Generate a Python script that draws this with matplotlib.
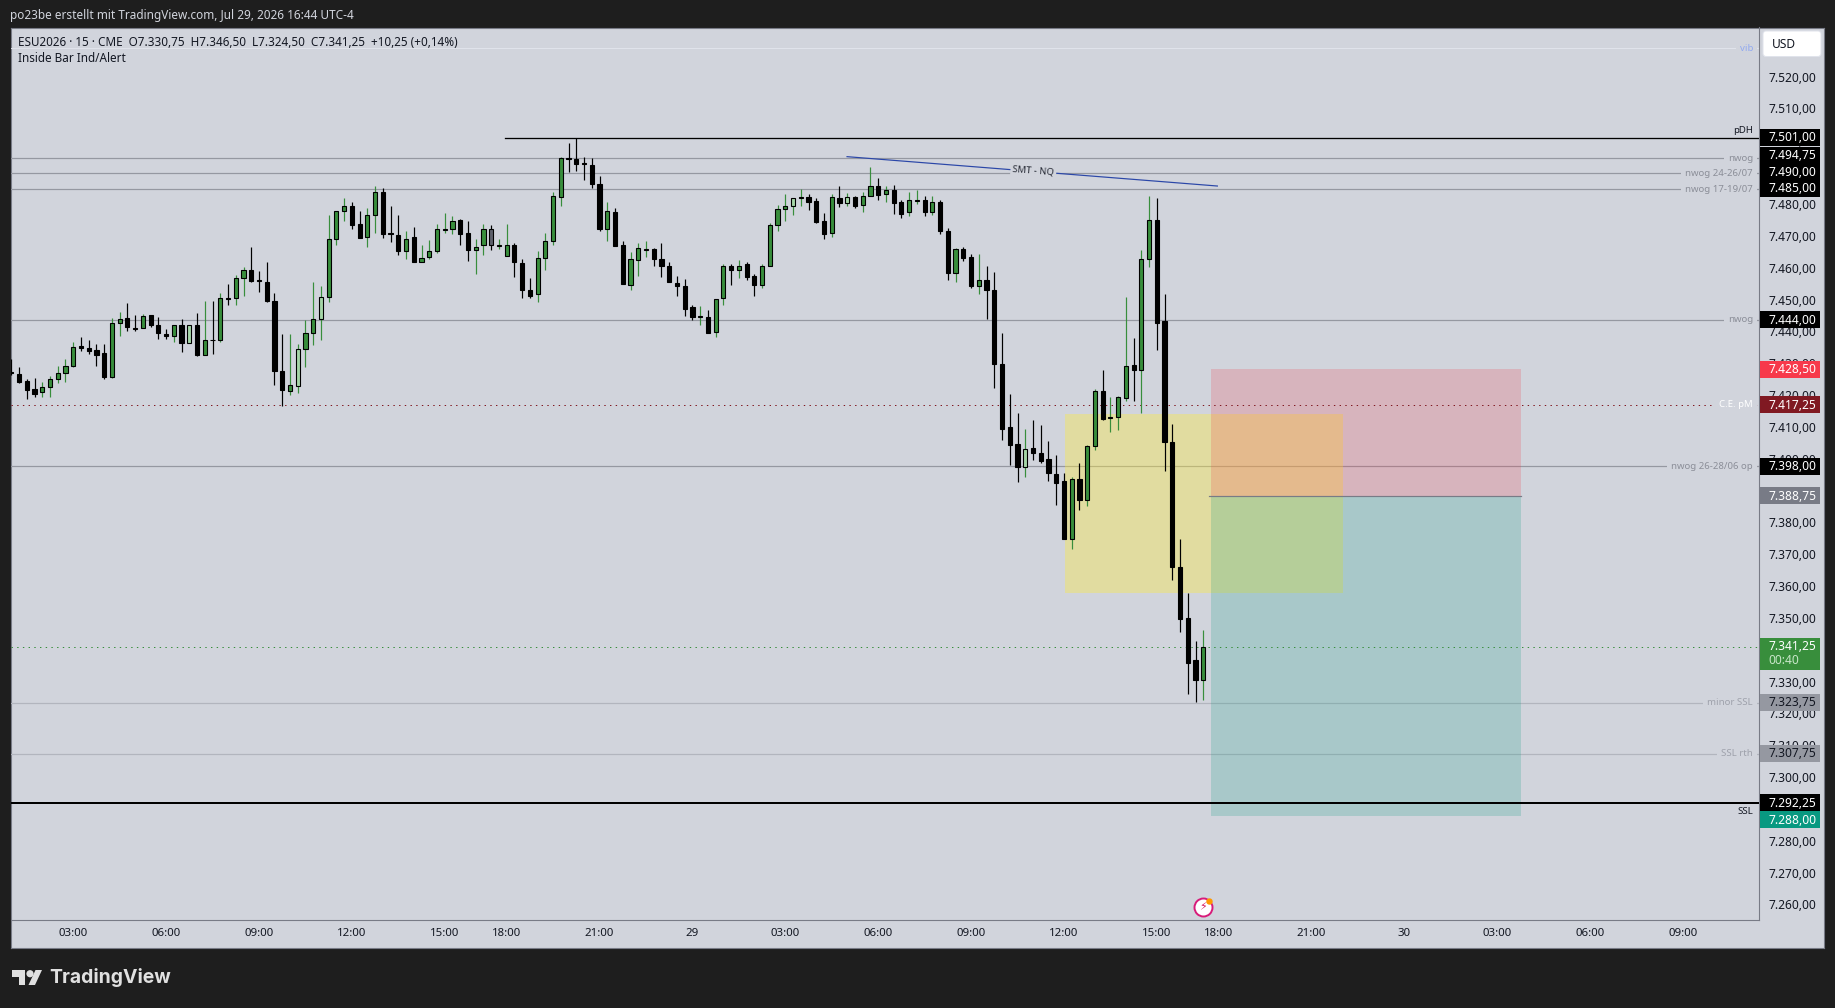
import matplotlib
matplotlib.use("Agg")
import matplotlib.pyplot as plt
from matplotlib.patches import Rectangle, Polygon, Circle, FancyBboxPatch
import numpy as np

plt.rcParams['font.family'] = ['Noto Sans', 'DejaVu Sans']

opens = [7427.5,7427,7424.75,7422.25,7421.25,7423,7425.5,7427.25,7429.5,7435.75,
7435,7434.5,7433.5,7426,7443,7444.5,7441.5,7441.5,7445.5,7442.5,
7439.5,7439,7442.5,7436.75,7442.25,7433,7437.75,7437.5,7450.75,7450.75,
7457.25,7459.5,7456.5,7456,7449.75,7428,7421.75,7423.25,7434.75,7439.75,
7444.25,7451.25,7469.25,7478.25,7479.75,7474,7470,7477,7484,7471.25,
7470.75,7465.5,7470,7462.25,7463.75,7465.5,7472.25,7472.5,7475.25,7471.25,
7466,7467.5,7472.5,7467.25,7464,7467.5,7461.75,7453.25,7452,7463.5,
7468.75,7482.5,7494.75,7494.5,7493.25,7492.75,7486.75,7472.5,7478,7467.5,
7455,7462.75,7466,7466.25,7463.25,7460.75,7455.5,7454.75,7448,7445,
7444.75,7440.25,7450.75,7461,7459.75,7461.5,7457.75,7455,7460.75,7473.75,
7478.75,7479.75,7482.25,7482.5,7481.25,7475,7471.25,7482.25,7480.75,7482.5,
7480,7483,7486,7483.5,7484.75,7481,7478,7481.25,7481.75,7478,
7481,7472,7458.75,7466.25,7463.75,7454.5,7456.5,7453.5,7430,7410.25,
7405,7397.75,7403.75,7402.25,7400.25,7395.5,7393.25,7375.25,7394,7387.5,
7404.25,7421.75,7413.25,7413.5,7419.5,7429.75,7428.25,7463.25,7475.25,7443.5,
7405.5,7366.5,7350.25,7337,7330.75]

closes = [7427.25,7424.5,7422,7420.75,7423,7425.5,7427.25,7429.5,7435.5,7435.25,
7434.25,7433,7426,7443,7444.25,7441.75,7441.25,7445.25,7442.25,7439.75,
7439,7442.5,7436.75,7442.25,7433,7437.75,7437.5,7450.75,7450.5,7457,
7459.5,7456.25,7456.25,7449.75,7428,7422,7423.5,7434.75,7439.75,7444.25,
7451.25,7469.25,7478.25,7479.75,7473.75,7469.75,7477,7484,7471,7471,
7465.5,7469.5,7462.25,7463.5,7465.5,7472.5,7472.5,7475,7471,7466,
7467,7472.5,7467.5,7467.5,7467.5,7462,7453.25,7451.5,7463.5,7468.75,
7482.75,7494.75,7494.5,7493,7493,7486.75,7472.5,7478.25,7467.25,7455.25,
7463,7466.5,7466.25,7463.25,7461,7455.75,7454.75,7447.25,7445,7445.25,
7440,7450.5,7461,7459.75,7460.75,7457.5,7455,7461,7473.75,7478.75,
7479.75,7482.25,7482.5,7481,7474.75,7471,7482.5,7480.75,7482.5,7479.75,
7482.75,7486,7483.25,7484.75,7480.75,7477.25,7481.5,7481.75,7478,7481,
7471.75,7458.75,7466.25,7463.5,7454.5,7456.5,7453.25,7430,7409.75,7404.75,
7397.75,7403.5,7402.25,7399.75,7395.75,7392.75,7375.25,7394,7387.5,7404.5,
7421.5,7412.75,7413.5,7419.75,7429.5,7428.25,7463.25,7475.25,7443,7405.5,
7366.5,7350,7336.25,7331,7341.25]

highs = [7431.75,7429.25,7425.25,7425.75,7424.5,7426.5,7429.5,7431.75,7437,7438.5,
7437.75,7436.5,7436.5,7444.5,7446.5,7449.25,7445.5,7445.75,7445.5,7444.75,
7441.25,7442.5,7444.25,7442.5,7446.25,7450,7450,7452.5,7455.25,7458,
7460.5,7467,7459.25,7462.25,7452.5,7439.5,7439.5,7436.5,7444,7456,
7454.75,7477,7478.25,7482.25,7481,7478.25,7479.25,7486,7485.5,7479.75,
7477,7471.75,7473.25,7467.5,7469,7474,7477.5,7476.75,7475.5,7475,
7469.25,7474,7473.75,7469.25,7474,7468.25,7463,7457.25,7465.5,7471.25,
7484,7495.25,7499.5,7501,7495.25,7494.75,7489.25,7481,7479,7468.75,
7465.25,7468,7468.75,7466.5,7468,7462.25,7457.75,7456.75,7448.75,7448.25,
7447,7450.5,7461.5,7461.5,7462.75,7462,7458.25,7461.5,7474.25,7480,
7483.5,7482.25,7485,7483.5,7482.25,7477.5,7483.5,7486,7483.75,7482.75,
7484,7492,7488.5,7486,7486.25,7481.75,7484,7484.75,7482.75,7482.75,
7481.5,7472.75,7466.5,7467,7464.75,7464.75,7461,7459,7439.75,7420.75,
7414.75,7409.75,7412.5,7411,7406,7401.5,7396,7394.75,7399,7404.75,
7422.25,7428.25,7419.75,7420,7451.25,7438.25,7466,7482.75,7482.25,7452.25,
7411.25,7375.25,7358.25,7343.25,7346.5]

lows = [7426.75,7424.25,7419.25,7419.75,7419.75,7419.75,7424,7424.5,7429.25,7434.25,
7433.25,7429.5,7425.5,7425.75,7439,7440.5,7440.5,7441.5,7441.75,7438,
7438,7437,7434,7436.75,7432.75,7433,7433.25,7437,7448.5,7448.75,
7451.5,7455.75,7452.75,7449.5,7423.5,7417,7420.25,7421,7429.25,7436,
7437.75,7449.5,7467.5,7475,7472.5,7469.75,7467,7471.25,7469.75,7468.5,
7464.25,7463,7462.25,7462.25,7463.25,7465,7471.25,7471,7467.5,7462.5,
7458.5,7464.5,7466,7466.25,7464,7457.5,7451,7450.75,7449.5,7459.75,
7467.5,7479.75,7490.5,7490.75,7487.75,7485.5,7471.75,7468.75,7467.25,7455.25,
7453.5,7457.75,7463.75,7461,7457.5,7455.75,7451.5,7445.25,7444,7442.25,
7440,7438.75,7448.75,7455,7457.25,7456.5,7451.5,7454,7460.75,7471.75,
7475,7477,7479.75,7478.5,7474.5,7469.25,7470,7479.5,7479.75,7479,
7477.75,7483,7481.5,7481,7477.25,7476,7476.5,7480.25,7476.75,7477,
7471,7456.5,7455.75,7462.5,7454,7452.25,7444.25,7422.5,7406.25,7398.5,
7393,7394.75,7400,7399,7393.25,7385.75,7375.25,7372,7384.25,7385.5,
7403,7412.5,7408.75,7409.5,7418.5,7418.5,7414.75,7460.5,7434.5,7396.5,
7362.25,7346,7326.5,7324,7324.5]

inside_bars = [23, 37, 40, 101, 108, 131]
gray_bars = [62]

tick_bars = [8,20,32,44,56,64,76,88,100,112,124,136,148,156,168,180,192,204,216]
tick_texts = ["03:00","06:00","09:00","12:00","15:00","18:00","21:00","29","03:00","06:00",
              "09:00","12:00","15:00","18:00","21:00","30","03:00","06:00","09:00"]
price_ticks = list(range(7260, 7530, 10))

line_prices = [7494.75, 7490.0, 7485.0, 7444.0, 7398.0]
line_names = ["nwog", "nwog 24-26/07", "nwog 17-19/07", "nwog", "nwog 26-28/06 op"]
soft_prices = [7323.75, 7307.75]
soft_names = ["minor SSL", "SSL rth"]
vib_price = 7529.25
pdh_price = 7501.0
ssl_price = 7292.25
ce_price = 7417.25
last_price = 7341.25
entry_price = 7388.75
stop_price = 7428.5
target_price = 7288.0
fvg_top, fvg_bottom = 7414.5, 7358.25
smt_bars = [107.9, 155.9]
smt_prices = [7495.25, 7486.0]

tag_prices = [7501.0, 7494.75, 7490.0, 7485.0, 7444.0, 7428.5, 7417.25, 7398.0, 7388.75, 7323.75, 7307.75, 7292.25, 7288.0]
tag_places = [7501.25, 7495.75, 7490.5, 7485.25, 7444.0, 7428.5, 7417.25, 7398.0, 7388.75, 7323.75, 7307.75, 7292.25, 7287.0]
tag_fills = ["#000000","#000000","#000000","#000000","#000000","#f7394b","#801922","#000000","#787b86","#9598a1","#9598a1","#000000","#089981"]
tag_inks = ["white","white","white","white","white","white","white","white","white","#131722","#131722","white","white"]

W, H = 1835, 1008
BG = "#d1d4dc"
DARK = "#1e1e1e"
AXC = "#787b86"
INK = "#131722"
PX = 1 / 100 * 72  # points per pixel

L, R, T, B, RR, BB = 10.7, 1759.0, 27.5, 920.0, 1824.3, 947.7
BAR0, STEP = 11.3, 7.74
def price_at(y):
    return 7506.75 - (y - 120) / 3.184
XL = ((L - BAR0) / STEP, (R - BAR0) / STEP)
YL = (price_at(B), price_at(T))
def fmt(p):
    return f"{p:,.2f}".replace(",", "#").replace(".", ",").replace("#", ".")

fig = plt.figure(figsize=(W / 100, H / 100), dpi=100, facecolor=DARK)

# whole pane background, behind everything
base = fig.add_axes([L / W, 1 - BB / H, (RR - L) / W, (BB - T) / H], facecolor=BG, zorder=0)
base.set_xticks([]); base.set_yticks([])
for s in base.spines.values():
    s.set_color(AXC)
    s.set_linewidth(1.1 * PX)

ax = fig.add_axes([L / W, 1 - B / H, (R - L) / W, (B - T) / H], facecolor="none", zorder=1)
ax.set_xlim(*XL)
ax.set_ylim(*YL)
ax.set_xticks([]); ax.set_yticks([])
for s in ax.spines.values():
    s.set_visible(False)
ax.spines["right"].set_visible(True)
ax.spines["bottom"].set_visible(True)
ax.spines["right"].set_color(AXC)
ax.spines["bottom"].set_color(AXC)
ax.spines["right"].set_linewidth(1.1 * PX)
ax.spines["bottom"].set_linewidth(1.1 * PX)

# horizontal levels
for p in line_prices:
    ax.axhline(p, color="#9598a1", lw=1.2 * PX, zorder=1)
for p in soft_prices:
    ax.axhline(p, color="#b2b5be", lw=1.2 * PX, zorder=1)
ax.axhline(vib_price, color="#e0e3eb", lw=1 * PX, zorder=1)
ax.plot([63.8, XL[1]], [pdh_price, pdh_price], color="black", lw=1.3 * PX, zorder=1)
ax.axhline(ssl_price, color="black", lw=2 * PX, zorder=3.5)
ax.axhline(ce_price, color="#801922", lw=1 * PX, ls=(0, (1.4, 4.3)), zorder=2.5)
ax.axhline(last_price, color="#388e3c", lw=1 * PX, ls=(0, (1.4, 4.3)), zorder=2.5)

# boxes
ax.add_patch(Rectangle((136.1, fvg_bottom), 172 - 136.1, fvg_top - fvg_bottom,
                       fc=(1, 0.92, 0.23, 0.37), ec="none", zorder=2))
ax.add_patch(Rectangle((155.0, entry_price), 195.1 - 155.0, stop_price - entry_price,
                       fc=(0.949, 0.212, 0.271, 0.2), ec="none", zorder=2.1))
ax.add_patch(Rectangle((155.0, target_price), 195.1 - 155.0, entry_price - target_price,
                       fc=(0.031, 0.6, 0.506, 0.2), ec="none", zorder=2.1))
ax.plot([154.8, 195.1], [entry_price, entry_price], color="#787b86", lw=1.2 * PX, zorder=2.2)

# candles
idx = np.arange(len(opens))
o, h, l, c = map(np.array, (opens, highs, lows, closes))
up = c >= o
fills = np.where(up, "#388e3c", "#000000").astype(object)
for i in inside_bars:
    fills[i] = "#a5d6a7"
for i in gray_bars:
    fills[i] = "#5d606b"
ax.vlines(idx, l, h, colors=np.where(up, "#388e3c", "#000000"), lw=1.2 * PX, zorder=3)
ax.bar(idx, np.abs(c - o), bottom=np.minimum(o, c), width=0.54, color=list(fills),
       edgecolor="black", linewidth=1.1 * PX, zorder=3.2)

# SMT line
ax.plot(smt_bars, smt_prices, color="#2b47a8", lw=1.2 * PX, zorder=3.4, solid_capstyle="butt")
ax.text(np.mean(smt_bars) + 0.15, np.mean(smt_prices) + 0.1, "SMT - NQ", fontsize=9.5 * PX, color="#2a2e39",
        rotation=-4.4, rotation_mode="anchor", ha="center", va="center", zorder=3.5,
        bbox=dict(fc=BG, ec="none", pad=1.5))

# level labels
def level_label(price, text, color, dy=0, boxed=True, weight="normal"):
    kw = dict(bbox=dict(fc=BG, ec="none", pad=2.9)) if boxed else {}
    ax.annotate(text, xy=(XL[1], price), xytext=(-6 * PX, dy * PX), textcoords="offset points",
                ha="right", va="center", fontsize=9.6 * PX, color=color, fontweight=weight,
                zorder=4, annotation_clip=False, **kw)
for p, n in zip(line_prices, line_names):
    level_label(p, n, "#8b8e98")
for p, n in zip(soft_prices, soft_names):
    level_label(p, n, "#9ea1ab")
level_label(vib_price, "vib", "#92aaf0")
level_label(ce_price, "C.E. pM", "white", weight="bold")
level_label(pdh_price, "pDH", INK, dy=8, boxed=False)
level_label(ssl_price, "SSL", INK, dy=-9, boxed=False)

# alert icon
icon_bar, icon_price = len(opens) - 1, price_at(907)
ax.scatter([icon_bar], [icon_price], s=(18 * PX) ** 2, facecolor="white", edgecolor="#d81b7a",
           linewidth=1.5 * PX * 1.3, zorder=5)
ax.text(icon_bar, icon_price, "\u26a1", fontsize=11 * PX, family="DejaVu Sans", color="#d81b60",
        ha="center", va="center", zorder=6)
ax.scatter([icon_bar + 0.8], [icon_price + 1.9], s=(5 * PX) ** 2, color="#ff9800", zorder=6)

# time strip
xax = fig.add_axes([L / W, 1 - BB / H, (R - L) / W, (BB - B) / H], facecolor="none", zorder=2)
xax.set_xlim(*XL)
xax.set_ylim(0, 1)
xax.axis("off")
for b, t in zip(tick_bars, tick_texts):
    xax.text(b, 0.52, t, fontsize=11.5 * PX, color=INK, ha="center", va="center",
             fontweight="bold" if len(t) == 2 else "normal")

# price strip
pax = fig.add_axes([R / W, 1 - B / H, (RR - R) / W, (B - T) / H], facecolor="none", zorder=3)
pax.set_xlim(0, RR - R)
pax.set_ylim(*YL)
pax.axis("off")
for p in price_ticks:
    pax.text(9, p - 0.1, fmt(p), fontsize=12 * PX, color=INK, va="center", ha="left", zorder=0.5, clip_on=True)
th = 17 / 3.184
for pl, pv, fc, ink in zip(tag_places, tag_prices, tag_fills, tag_inks):
    pax.add_patch(Rectangle((1, pl - th / 2), 60, th, fc=fc, ec="none", zorder=1))
    pax.text(9, pl - 0.1, fmt(pv), fontsize=12 * PX, color=ink, va="center", ha="left", zorder=2)
pax.add_patch(Rectangle((1, price_at(670)), 60, price_at(638) - price_at(670), fc="#388e3c", ec="none", zorder=1))
pax.text(9, price_at(647), fmt(last_price), fontsize=12 * PX, color="white", va="center", zorder=2)
pax.text(9, price_at(661), "00:40", fontsize=12 * PX, color="#c8e6c9", va="center", zorder=2)

# chrome in pixel coordinates
top = fig.add_axes([0, 0, 1, 1], facecolor="none", zorder=5)
top.set_xlim(0, W)
top.set_ylim(H, 0)
top.axis("off")
top.add_patch(FancyBboxPatch((1764, 32), 56, 23.5, boxstyle="round,pad=1,rounding_size=3",
                             fc="white", ec="#e0e3eb", lw=1 * PX))
top.text(1772, 44.5, "USD", fontsize=12 * PX, color=INK, va="center")
top.text(10, 15, "po23be erstellt mit TradingView.com, Jul 29, 2026 16:44 UTC-4", fontsize=11.8 * PX,
         color="#d1d4dc", va="center")
top.text(18, 42, "ESU2026 \u00b7 15 \u00b7 CME  O7.330,75  H7.346,50  L7.324,50  C7.341,25  +10,25 (+0,14%)",
         fontsize=11.7 * PX, color=INK, va="center")
top.text(18, 59, "Inside Bar Ind/Alert", fontsize=11.7 * PX, color=INK, va="center")

# logo
LOGO = "#e0e0e0"
top.add_patch(Polygon([(12, 970), (25, 970), (25, 985), (19, 985), (19, 977), (12, 977)], fc=LOGO, ec="none"))
top.add_patch(Circle((30, 973.7), 3.6, fc=LOGO, ec="none"))
top.add_patch(Polygon([(35.5, 970), (42, 970), (35, 985), (28.5, 985)], fc=LOGO, ec="none"))
top.text(49, 977.5, "TradingView", fontsize=19.4 * PX, fontweight="bold", family="Inter", color=LOGO, va="center")

fig.savefig("out.png", dpi=100, facecolor=DARK)
